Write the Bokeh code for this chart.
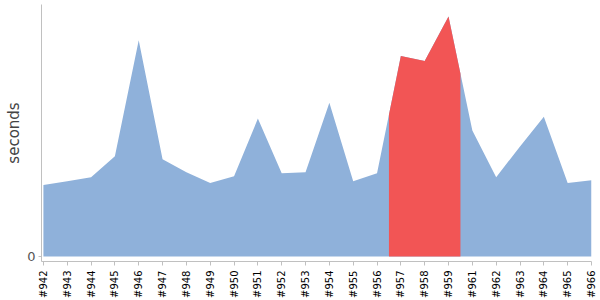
import math
from bokeh.plotting import figure
from bokeh.models import FixedTicker, Range1d
from bokeh.embed import file_html
from bokeh.resources import INLINE

builds = ["#942", "#943", "#944", "#945", "#946", "#947", "#948", "#949", "#950",
          "#951", "#952", "#953", "#954", "#955", "#956", "#957", "#958", "#959",
          "#961", "#962", "#963", "#964", "#965", "#966"]
seconds = [7.2, 7.6, 8.0, 10.1, 21.8, 9.8, 8.5, 7.4, 8.1, 13.9, 8.4, 8.5, 15.5,
           7.6, 8.4, 20.2, 19.7, 24.2, 12.7, 8.0, 11.1, 14.1, 7.4, 7.7]
highlighted = ["#957", "#958", "#959"]

BLUE = "#8fb1da"
RED = "#f25555"
AXIS = "#c0c0c0"

xs = list(range(len(builds)))
hi_idx = [builds.index(b) for b in highlighted]
lo, hi = min(hi_idx), max(hi_idx)

def interp(xv):
    i = int(math.floor(xv))
    t = xv - i
    return seconds[i] * (1 - t) + seconds[i + 1] * t

red_x = [lo - 0.5] + list(range(lo, hi + 1)) + [hi + 0.5]
red_y = [interp(lo - 0.5)] + [seconds[i] for i in range(lo, hi + 1)] + [interp(hi + 0.5)]

p = figure(width=600, height=300, output_backend="svg", toolbar_location=None,
           x_range=Range1d(-0.08, 23.0), y_range=Range1d(-0.5, 25.4),
           min_border_left=41, min_border_right=9, min_border_top=4,
           min_border_bottom=37)
p.outline_line_color = None
p.xgrid.visible = False
p.ygrid.visible = False

p.varea(x=xs, y1=[0] * len(xs), y2=seconds, fill_color=BLUE)
p.varea(x=red_x, y1=[0] * len(red_x), y2=red_y, fill_color=RED)

xa = p.xaxis[0]
xa.ticker = FixedTicker(ticks=xs)
xa.major_label_overrides = {i: b for i, b in enumerate(builds)}
xa.major_label_orientation = math.pi / 2
xa.major_label_text_font = "DejaVu Sans"
xa.major_label_text_font_size = "10px"
xa.major_label_text_color = "#000000"
xa.major_label_standoff = 5
xa.axis_line_color = AXIS
xa.major_tick_line_color = AXIS
xa.major_tick_in = 0
xa.major_tick_out = 4
xa.minor_tick_line_color = None

ya = p.yaxis[0]
ya.ticker = FixedTicker(ticks=[0])
ya.axis_label = "seconds"
ya.axis_label_text_font = "DejaVu Sans"
ya.axis_label_text_font_style = "normal"
ya.axis_label_text_font_size = "15px"
ya.axis_label_text_color = "#444444"
ya.axis_label_standoff = 1
ya.major_label_text_font = "DejaVu Sans"
ya.major_label_text_font_size = "13px"
ya.major_label_text_color = "#555555"
ya.major_label_standoff = 3
ya.axis_line_color = AXIS
ya.major_tick_line_color = AXIS
ya.major_tick_in = 0
ya.major_tick_out = 3
ya.minor_tick_line_color = None

open("out.html", "w").write(file_html(p, INLINE))
